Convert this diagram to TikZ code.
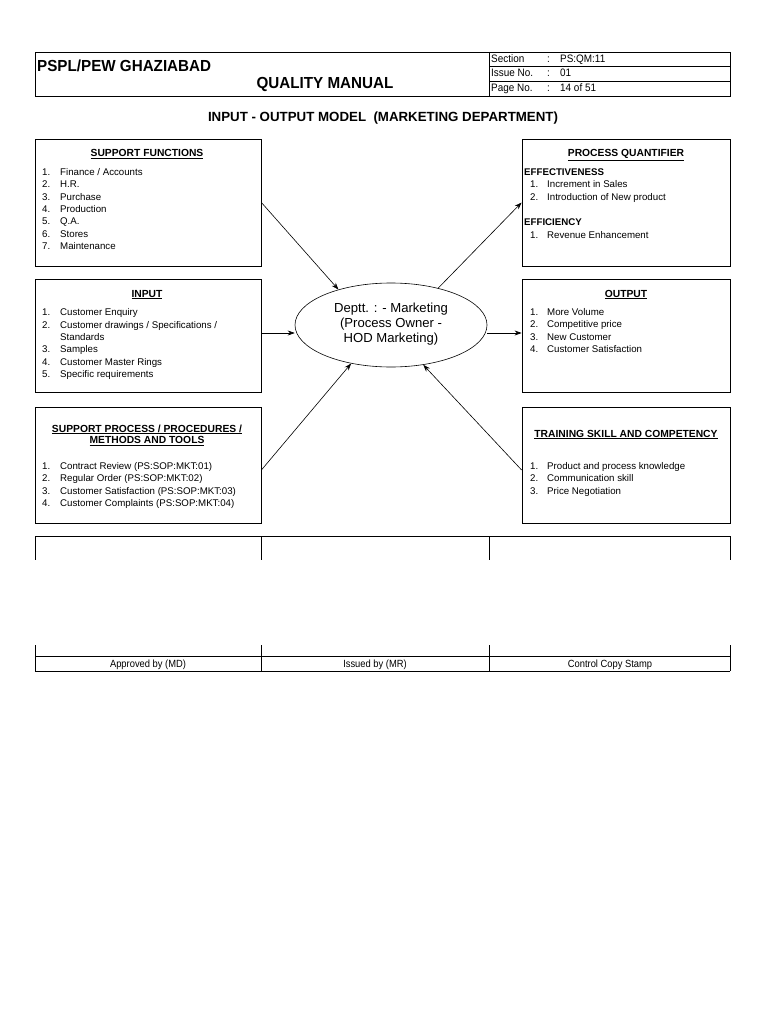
\documentclass[tikz,border=0pt]{standalone}
\usepackage{fontspec}
\setmainfont{Liberation Sans}
\usetikzlibrary{arrows.meta,shapes.geometric}
\newcommand{\itf}{\fontsize{9.7}{11}\selectfont}
\newcommand{\hdf}{\fontsize{10.3}{12}\selectfont\bfseries}
\tikzset{
  box/.style={draw, line width=0.8pt, inner sep=0pt},
  itm/.style={anchor=base west, inner sep=0pt, font=\itf},
  hd/.style={anchor=base, inner sep=0pt, font=\hdf},
  arr/.style={line width=0.6pt, -{Stealth[length=7pt,width=5pt]}},
  rule/.style={line width=0.8pt},
  small/.style={inner sep=0pt, font=\fontsize{10.8}{12}\selectfont, xscale=0.92},
  foot/.style={inner sep=0pt, font=\fontsize{10.4}{12}\selectfont, xscale=0.9}
}
\begin{document}
\begin{tikzpicture}[x=1pt,y=-1pt]
\useasboundingbox (0,0) rectangle (768,1024);
\fill[white] (0,0) rectangle (768,1024);
% header
\draw[rule] (35,52) rectangle (730,96);
\draw[rule] (489,52) -- (489,96);
\draw[rule] (489,66.5) -- (730,66.5);
\draw[rule] (489,81) -- (730,81);
\node[anchor=base west, inner sep=0pt, font=\fontsize{16}{18}\selectfont\bfseries, xscale=0.95] (org) at (37,71.5) {PSPL/PEW GHAZIABAD};
\node[anchor=base, inner sep=0pt, font=\fontsize{16}{18}\selectfont\bfseries, xscale=0.95] (qm) at (325,88.5) {QUALITY MANUAL};
\node[small, anchor=base west] (s1) at (491,63) {Section};
\node[small, anchor=base west] (s2) at (491,77) {Issue No.};
\node[small, anchor=base west] (s3) at (491,91.5) {Page No.};
\node[small, anchor=base west] (c1) at (547,63) {:};
\node[small, anchor=base west] (c2) at (547,77) {:};
\node[small, anchor=base west] (c3) at (547,91.5) {:};
\node[small, anchor=base west] (v1) at (560,63) {PS:QM:11};
\node[small, anchor=base west] (v2) at (560,77) {01};
\node[small, anchor=base west] (v3) at (560,91.5) {14 of 51};
% title
\node[anchor=base, inner sep=0pt, font=\fontsize{13.3}{15}\selectfont\bfseries] (title) at (383,122) {INPUT - OUTPUT MODEL\ \ (MARKETING DEPARTMENT)};
% boxes
\node[box, minimum width=226pt, minimum height=127pt] (sf) at (148,202.5) {};
\node[box, minimum width=208pt, minimum height=127pt] (pq) at (626,202.5) {};
\node[box, minimum width=226pt, minimum height=113pt] (inp) at (148,335.5) {};
\node[box, minimum width=208pt, minimum height=113pt] (out) at (626,335.5) {};
\node[box, minimum width=226pt, minimum height=116pt] (sp) at (148,465) {};
\node[box, minimum width=208pt, minimum height=116pt] (tr) at (626,465) {};
\node[draw, ellipse, line width=0.6pt, minimum width=192pt, minimum height=84pt, inner sep=0pt] (dept) at (391,325) {};
\node[inner sep=0pt, align=center, font=\fontsize{13.1}{15}\selectfont] (deptt) at (391,324) {Deptt. : - Marketing\\(Process Owner -\\HOD Marketing)};
% support functions
\node[hd] (sfh) at (147,157) {\underline{SUPPORT FUNCTIONS}};
\foreach \n/\t [count=\i from 0] in {1/{Finance / Accounts},2/H.R.,3/Purchase,4/Production,5/Q.A.,6/Stores,7/Maintenance}{
  \node[itm] (sfn\n) at (42,{175.5+\i*12.3}) {\n.};
  \node[itm] (sft\n) at (60,{175.5+\i*12.3}) {\t};
}
% process quantifier
\node[hd] (pqh) at (626,157) {\underline{PROCESS QUANTIFIER}};
\node[itm, font=\itf\bfseries] (eff) at (524,175.5) {EFFECTIVENESS};
\node[itm] (pqn1) at (530,188) {1.};
\node[itm] (pqt1) at (547,188) {Increment in Sales};
\node[itm] (pqn2) at (530,200.3) {2.};
\node[itm] (pqt2) at (547,200.3) {Introduction of New product};
\node[itm, font=\itf\bfseries] (effc) at (524,225.5) {EFFICIENCY};
\node[itm] (pqn3) at (530,238) {1.};
\node[itm] (pqt3) at (547,238) {Revenue Enhancement};
% input
\node[hd] (inh) at (147,297) {\underline{INPUT}};
\node[itm] (in1) at (42,315.5) {1.};
\node[itm] (it1) at (60,315.5) {Customer Enquiry};
\node[itm] (in2) at (42,328.3) {2.};
\node[itm] (it2) at (60,328.3) {Customer drawings / Specifications /};
\node[itm] (it2b) at (60,340.6) {Standards};
\node[itm] (in3) at (42,352.9) {3.};
\node[itm] (it3) at (60,352.9) {Samples};
\node[itm] (in4) at (42,365.2) {4.};
\node[itm] (it4) at (60,365.2) {Customer Master Rings};
\node[itm] (in5) at (42,377.5) {5.};
\node[itm] (it5) at (60,377.5) {Specific requirements};
% output
\node[hd] (outh) at (626,297) {\underline{OUTPUT}};
\foreach \n/\t [count=\i from 0] in {1/More Volume,2/Competitive price,3/New Customer,4/Customer Satisfaction}{
  \node[itm] (on\n) at (530,{315.5+\i*12.3}) {\n.};
  \node[itm] (ot\n) at (547,{315.5+\i*12.3}) {\t};
}
% support process
\node[hd] (sph1) at (147,432) {\underline{SUPPORT PROCESS / PROCEDURES /}};
\node[hd] (sph2) at (147,443.5) {\underline{METHODS AND TOOLS}};
\foreach \n/\t [count=\i from 0] in {1/Contract Review (PS:SOP:MKT:01),2/Regular Order (PS:SOP:MKT:02),3/Customer Satisfaction (PS:SOP:MKT:03),4/Customer Complaints (PS:SOP:MKT:04)}{
  \node[itm] (spn\n) at (42,{469.5+\i*12.3}) {\n.};
  \node[itm] (spt\n) at (60,{469.5+\i*12.3}) {\t};
}
% training
\node[hd] (trh) at (626,437) {\underline{TRAINING SKILL AND COMPETENCY}};
\foreach \n/\t [count=\i from 0] in {1/Product and process knowledge,2/Communication skill,3/Price Negotiation}{
  \node[itm] (trn\n) at (530,{469.5+\i*12.3}) {\n.};
  \node[itm] (trt\n) at (547,{469.5+\i*12.3}) {\t};
}
% arrows
\draw[arr] (sf.east) -- (dept.146);
\draw[arr] (dept.38) -- (pq.west);
\draw[arr] ([yshift=2.5pt]inp.east) -- ([yshift=-8pt]dept.west);
\draw[arr] ([yshift=-8pt]dept.east) -- ([yshift=2.5pt]out.west);
\draw[arr] ([yshift=-5pt]sp.east) -- (dept.224);
\draw[arr] ([yshift=-5pt]tr.west) -- (dept.309);
% bottom table
\draw[rule] (35,536) -- (730,536);
\foreach \x in {35,261,489,730}{
  \draw[rule] (\x,536) -- (\x,560);
  \draw[rule] (\x,645) -- (\x,671);
}
\draw[rule] (35,656) -- (730,656);
\draw[rule] (35,671) -- (730,671);
\node[foot, anchor=base] (ap) at (148,667) {Approved by (MD)};
\node[foot, anchor=base] (is) at (375,667) {Issued by (MR)};
\node[foot, anchor=base] (cc) at (610,667) {Control Copy Stamp};
\end{tikzpicture}
\end{document}
